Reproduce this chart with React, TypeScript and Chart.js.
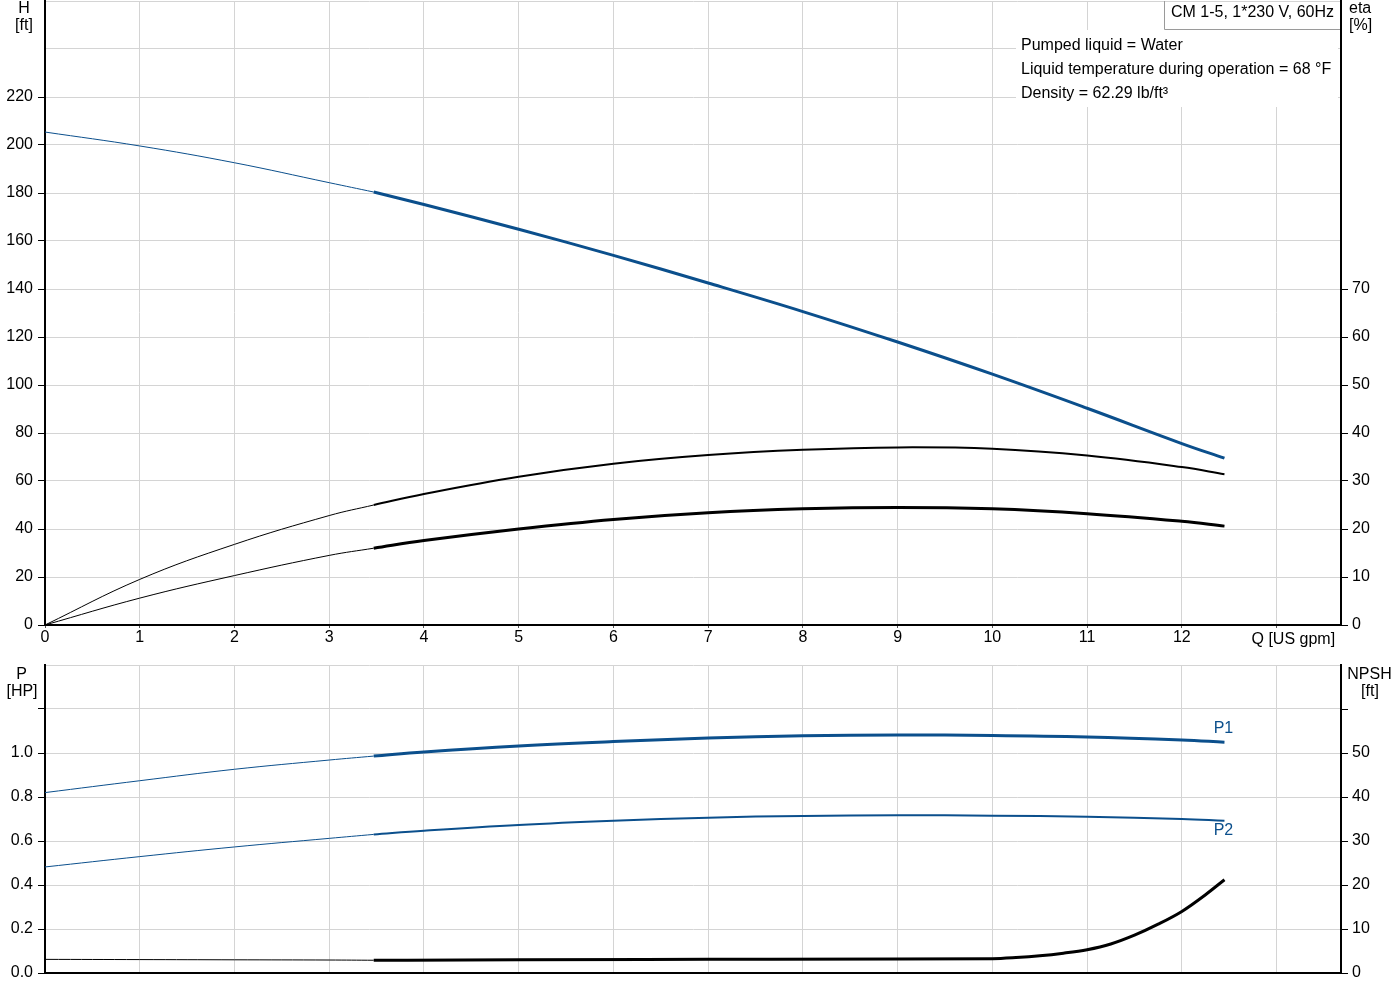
import React, { useEffect, useRef } from 'react';
import { Chart, registerables } from 'chart.js';

Chart.register(...registerables);

const FONT_FAMILY = '"Liberation Sans", Arial, sans-serif';
const FONT16 = `16px ${FONT_FAMILY}`;
const BLUE = '#0b4f8c';
const GRID = '#d4d4d4';

// ---- data (Q in US gpm) ----
const qLow = [0, 1, 2, 3, 3.47];
const qHigh = [3.47, 4, 5, 6, 7, 8, 9, 10, 11, 12, 12.45];

const headLow = [205.4, 199.6, 192.6, 184.3, 180.4];
const headHigh = [180.4, 175.2, 164.9, 154.0, 142.5, 130.6, 117.9, 104.5, 90.3, 75.6, 69.5];

const etaPumpLow = [0, 9.5, 16.8, 22.8, 25.0];
const etaPumpHigh = [25.0, 27.3, 30.9, 33.6, 35.4, 36.5, 37.0, 36.7, 35.3, 32.9, 31.4];

const etaTotalLow = [0, 5.6, 10.3, 14.5, 16.0];
const etaTotalHigh = [16.0, 17.6, 20.0, 22.0, 23.4, 24.2, 24.5, 24.2, 23.2, 21.6, 20.6];

const p1Low = [0.82, 0.874, 0.926, 0.968, 0.986];
const p1High = [0.986, 1.005, 1.032, 1.052, 1.068, 1.078, 1.082, 1.08, 1.073, 1.059, 1.049];

const p2Low = [0.482, 0.529, 0.573, 0.612, 0.63];
const p2High = [0.63, 0.647, 0.673, 0.692, 0.706, 0.714, 0.717, 0.715, 0.71, 0.7, 0.692];

const npshLow = [3.1, 3.05, 3.0, 2.95, 2.9];
const npshQ = [3.47, 5, 7, 9, 10, 10.25, 10.5, 10.75, 11, 11.25, 11.5, 11.75, 12, 12.25, 12.45];
const npshHigh = [2.9, 3.0, 3.1, 3.2, 3.25, 3.5, 3.9, 4.5, 5.3, 6.6, 8.6, 11.1, 14.0, 17.8, 21.2];

const Q_MAX = 13.68;
const Q_LABEL_MAX = 12;
const H_MAX = 260;
const H_LABEL_MAX = 220;
const ETA_MAX = 130;
const ETA_LABEL_MAX = 70;
const P_MAX = 1.4;
const P_LABEL_MAX = 1.0;
const P_TICK_MAX = 1.2;
const NPSH_MAX = 70;
const NPSH_LABEL_MAX = 50;
const NPSH_TICK_MAX = 60;

const titleText = 'CM 1-5, 1*230 V, 60Hz';
const infoLines = [
  'Pumped liquid = Water',
  'Liquid temperature during operation = 68 °F',
  'Density = 62.29 lb/ft³',
];
const xAxisTitle = 'Q [US gpm]';

const pts = (q: number[], v: number[]) => q.map((x, i) => ({ x, y: v[i] }));

const fixWidth = (w: number) => (s: any) => {
  s.width = w;
  s.paddingTop = 0;
  s.paddingBottom = 0;
  s.paddingLeft = 0;
  s.paddingRight = 0;
};
const fixHeight = (h: number) => (s: any) => {
  s.height = h;
  s.paddingTop = 0;
  s.paddingBottom = 0;
  s.paddingLeft = 0;
  s.paddingRight = 0;
};

const tickFont = { family: FONT_FAMILY, size: 16 };

const baseOptions = {
  animation: false as const,
  responsive: false,
  devicePixelRatio: 1,
  events: [] as any[],
  plugins: { legend: { display: false }, tooltip: { enabled: false } },
  elements: {
    point: { radius: 0 },
    line: { tension: 0.4, borderCapStyle: 'butt' as const, fill: false },
  },
};

const line = (data: any, color: string, width: number, yAxisID: string, monotone = false) => ({
  data,
  borderColor: color,
  borderWidth: width,
  yAxisID,
  pointRadius: 0,
  fill: false,
  tension: 0.4,
  cubicInterpolationMode: monotone ? 'monotone' : 'default',
});

const overlayTop = {
  id: 'overlayTop',
  afterDraw(chart: any) {
    const { ctx, chartArea } = chart;
    ctx.save();
    // info text background
    ctx.fillStyle = '#fff';
    ctx.fillRect(1016, 30, chartArea.right - 1019, 77);
    // title box
    ctx.fillRect(1165, chartArea.top + 1, chartArea.right - 1166, 27);
    ctx.strokeStyle = '#9a9a9a';
    ctx.lineWidth = 1;
    ctx.beginPath();
    ctx.moveTo(1164.5, chartArea.top);
    ctx.lineTo(1164.5, 29.5);
    ctx.lineTo(chartArea.right - 1, 29.5);
    ctx.stroke();

    ctx.font = FONT16;
    ctx.fillStyle = '#000';
    ctx.textBaseline = 'alphabetic';
    ctx.textAlign = 'left';
    ctx.fillText(titleText, 1171, 16.5);
    infoLines.forEach((t, i) => ctx.fillText(t, 1021, 50 + 24 * i));

    ctx.textAlign = 'center';
    ctx.fillText('H', 24, 12.5);
    ctx.fillText('[ft]', 24, 30);
    ctx.textAlign = 'left';
    ctx.fillText('eta', 1349, 13);
    ctx.fillText('[%]', 1349, 30);
    ctx.fillText(xAxisTitle, 1251.5, 644);
    ctx.restore();
  },
};

const overlayBottom = {
  id: 'overlayBottom',
  afterDraw(chart: any) {
    const { ctx, scales } = chart;
    ctx.save();
    ctx.font = FONT16;
    ctx.fillStyle = '#000';
    ctx.textBaseline = 'alphabetic';
    ctx.textAlign = 'center';
    ctx.fillText('P', 21.5, 28.5);
    ctx.fillText('[HP]', 22, 46);
    ctx.fillText('NPSH', 1369.5, 28.5);
    ctx.fillText('[ft]', 1370, 46);

    const x = scales.x;
    const y = scales.yP;
    const lastQ = qHigh[qHigh.length - 1];
    const px = x.getPixelForValue(lastQ) - 1;
    ctx.fillStyle = BLUE;
    ctx.fillText('P1', px, y.getPixelForValue(p1High[p1High.length - 1]) - 9.5);
    ctx.fillText('P2', px, y.getPixelForValue(p2High[p2High.length - 1]) + 14);
    ctx.restore();
  },
};

const tickColorUpTo = (max: number) => (c: any) =>
  c.tick && c.tick.value <= max + 1e-9 ? '#000' : 'rgba(0,0,0,0)';

export default function App() {
  const topRef = useRef<HTMLCanvasElement | null>(null);
  const botRef = useRef<HTMLCanvasElement | null>(null);

  useEffect(() => {
    const top = new Chart(topRef.current as HTMLCanvasElement, {
      type: 'line',
      data: {
        datasets: [
          line(pts(qLow, headLow), BLUE, 1, 'yH'),
          line(pts(qHigh, headHigh), BLUE, 3, 'yH'),
          line(pts(qLow, etaPumpLow), '#000', 1, 'yE'),
          line(pts(qHigh, etaPumpHigh), '#000', 2, 'yE'),
          line(pts(qLow, etaTotalLow), '#000', 1, 'yE'),
          line(pts(qHigh, etaTotalHigh), '#000', 3, 'yE'),
        ],
      },
      options: {
        ...baseOptions,
        layout: { padding: { top: 1, left: 0, right: 0, bottom: 0 } },
        scales: {
          x: {
            type: 'linear',
            position: 'bottom',
            min: 0,
            max: Q_MAX,
            ticks: {
              stepSize: 1,
              includeBounds: false,
              autoSkip: false,
              maxRotation: 0,
              padding: 0,
              color: '#000',
              font: tickFont,
              callback: (v: any) => (v <= Q_LABEL_MAX ? String(v) : ''),
            },
            grid: { color: GRID, tickLength: 3, tickColor: '#555' },
            border: { color: '#000', width: 2 },
            afterFit: fixHeight(25),
          },
          yH: {
            type: 'linear',
            position: 'left',
            min: 0,
            max: H_MAX,
            ticks: {
              stepSize: 20,
              padding: 5,
              color: '#000',
              font: tickFont,
              callback: (v: any) => (v <= H_LABEL_MAX ? String(v) : ''),
            },
            grid: { color: GRID, tickLength: 7, tickColor: tickColorUpTo(H_LABEL_MAX) },
            border: { color: '#000', width: 2 },
            afterFit: fixWidth(45),
          },
          yE: {
            type: 'linear',
            position: 'right',
            min: 0,
            max: ETA_MAX,
            ticks: {
              stepSize: 10,
              padding: 4,
              color: '#000',
              font: tickFont,
              callback: (v: any) => (v <= ETA_LABEL_MAX ? String(v) : ''),
            },
            grid: { drawOnChartArea: false, tickLength: 7, tickColor: tickColorUpTo(ETA_LABEL_MAX) },
            border: { color: '#000', width: 2 },
            afterFit: fixWidth(59),
          },
        },
      } as any,
      plugins: [overlayTop],
    });

    const bot = new Chart(botRef.current as HTMLCanvasElement, {
      type: 'line',
      data: {
        datasets: [
          line(pts(qLow, p1Low), BLUE, 1, 'yP'),
          line(pts(qHigh, p1High), BLUE, 3, 'yP'),
          line(pts(qLow, p2Low), BLUE, 1, 'yP'),
          line(pts(qHigh, p2High), BLUE, 2, 'yP'),
          line(pts(qLow, npshLow), '#000', 1, 'yN'),
          line(pts(npshQ, npshHigh), '#000', 3, 'yN', true),
        ],
      },
      options: {
        ...baseOptions,
        layout: { padding: { top: 15, left: 0, right: 0, bottom: 0 } },
        scales: {
          x: {
            type: 'linear',
            position: 'bottom',
            min: 0,
            max: Q_MAX,
            ticks: { stepSize: 1, includeBounds: false, display: false },
            grid: { color: GRID, drawTicks: false },
            border: { color: '#000', width: 2 },
            afterFit: fixHeight(27),
          },
          yP: {
            type: 'linear',
            position: 'left',
            min: 0,
            max: P_MAX,
            ticks: {
              stepSize: 0.2,
              padding: 5,
              color: '#000',
              font: tickFont,
              callback: (v: any) => (v <= P_LABEL_MAX + 1e-9 ? Number(v).toFixed(1) : ''),
            },
            grid: { color: GRID, tickLength: 7, tickColor: tickColorUpTo(P_TICK_MAX) },
            border: { color: '#000', width: 2 },
            afterFit: fixWidth(45),
          },
          yN: {
            type: 'linear',
            position: 'right',
            min: 0,
            max: NPSH_MAX,
            ticks: {
              stepSize: 10,
              padding: 4,
              color: '#000',
              font: tickFont,
              callback: (v: any) => (v <= NPSH_LABEL_MAX ? String(v) : ''),
            },
            grid: { drawOnChartArea: false, tickLength: 7, tickColor: tickColorUpTo(NPSH_TICK_MAX) },
            border: { color: '#000', width: 2 },
            afterFit: fixWidth(59),
          },
        },
      } as any,
      plugins: [overlayBottom],
    });

    return () => {
      top.destroy();
      bot.destroy();
    };
  }, []);

  return (
    <div
      style={{
        position: 'fixed',
        left: 0,
        top: 0,
        width: 1400,
        height: 1000,
        background: '#fff',
        overflow: 'hidden',
      }}
    >
      <canvas
        ref={topRef}
        width={1400}
        height={650}
        style={{ position: 'absolute', left: 0, top: 0, width: 1400, height: 650 }}
      />
      <canvas
        ref={botRef}
        width={1400}
        height={350}
        style={{ position: 'absolute', left: 0, top: 650, width: 1400, height: 350 }}
      />
    </div>
  );
}
